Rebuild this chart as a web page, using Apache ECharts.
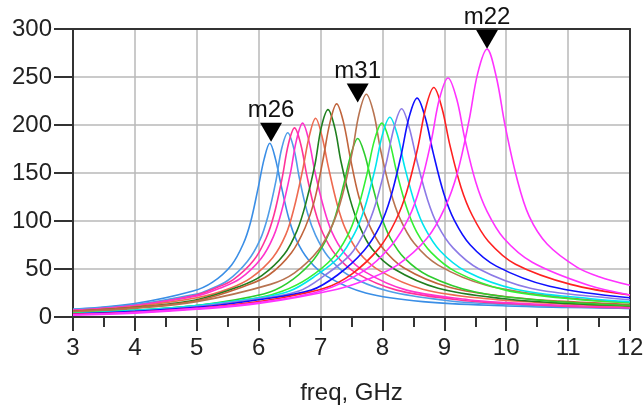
<!DOCTYPE html>
<html>
<head>
<meta charset="utf-8">
<script src="https://cdn.jsdelivr.net/npm/echarts@6/dist/echarts.min.js"></script>
<style>html,body{margin:0;padding:0;background:#fff;}#c{width:644px;height:407px;}</style>
</head>
<body>
<div id="c"></div>
<script>
// ---- data ----
const xTicks = [3,4,5,6,7,8,9,10,11,12];
const yTicks = [0,50,100,150,200,250,300];

const freq1 = [3, 4, 4.94, 5.25, 5.56, 5.75, 5.87, 5.99, 6.09, 6.18, 6.27, 6.37, 6.49, 6.61, 6.80, 7.11, 7.73, 8.65, 10, 11, 12];
const mag1  = [8, 14, 27, 36, 54, 76, 99, 134, 165, 181, 165, 135, 102, 80, 60, 42, 25, 16, 11.5, 10, 9];
const freq2 = [3, 4, 5, 5.18, 5.50, 5.82, 6.02, 6.15, 6.28, 6.37, 6.47, 6.57, 6.66, 6.79, 6.92, 7.12, 7.44, 8.09, 9.06, 10, 11, 12];
const mag2  = [8, 13, 24, 28, 38, 58, 80, 105, 142, 175, 192, 175, 144, 108, 85, 63, 44, 27, 17, 13, 10.5, 9];
const freq3 = [3, 4, 5, 5.26, 5.59, 5.92, 6.12, 6.25, 6.38, 6.48, 6.58, 6.68, 6.78, 6.91, 7.04, 7.24, 7.57, 8.23, 9.21, 10, 11, 12];
const mag3  = [7, 12, 23, 29, 39, 59, 82, 107, 145, 180, 197, 180, 147, 111, 87, 65, 46, 28, 18, 14, 11, 9.5];
const freq4 = [3, 4, 5, 5.37, 5.70, 6.04, 6.24, 6.37, 6.51, 6.61, 6.71, 6.81, 6.91, 7.05, 7.18, 7.38, 7.72, 8.39, 9.39, 10, 11, 12];
const mag4  = [7, 12, 22, 30, 40, 61, 84, 110, 149, 184, 202, 184, 151, 114, 89, 67, 47, 28, 18, 15, 12, 10];
const freq5 = [3, 4, 5, 5.54, 5.88, 6.23, 6.44, 6.57, 6.71, 6.82, 6.92, 7.02, 7.13, 7.27, 7.40, 7.61, 7.96, 8.65, 9.69, 11, 12];
const mag5  = [6, 11, 20, 30, 41, 62, 86, 113, 153, 189, 207, 189, 155, 117, 92, 68, 48, 29, 19, 13.5, 11];
const freq6 = [3, 4, 5, 5.70, 6.05, 6.41, 6.62, 6.76, 6.91, 7.01, 7.12, 7.23, 7.33, 7.48, 7.62, 7.83, 8.19, 8.90, 9.97, 11, 12];
const mag6  = [6, 10, 18, 32, 43, 65, 90, 118, 159, 197, 216, 197, 162, 122, 96, 71, 50, 30, 19, 14, 11.5];
const freq7 = [3, 4, 5, 5.81, 6.17, 6.53, 6.75, 6.90, 7.04, 7.15, 7.26, 7.37, 7.48, 7.62, 7.77, 7.99, 8.35, 9.08, 10.16, 11, 12];
const mag7  = [6, 10, 17, 33, 44, 67, 93, 121, 164, 202, 222, 203, 166, 125, 98, 73, 51, 31, 20, 16, 13];
const freq8 = [3, 4, 5, 6.08, 6.46, 6.84, 7.07, 7.22, 7.37, 7.49, 7.60, 7.71, 7.83, 7.98, 8.13, 8.36, 8.74, 9.50, 10.64, 12];
const mag8  = [4, 7, 12, 24, 35, 56, 78, 101, 137, 169, 186, 170, 139, 105, 82, 61, 43, 26, 17, 12];
const freq9 = [3, 4, 5, 6.19, 6.58, 6.97, 7.20, 7.35, 7.51, 7.62, 7.74, 7.86, 7.97, 8.13, 8.28, 8.51, 8.90, 9.68, 10.84, 12];
const mag9  = [5, 9, 16, 34, 46, 70, 97, 126, 171, 211, 232, 212, 174, 131, 103, 77, 54, 33, 21, 15];
const freq10 = [3, 4, 5, 6, 6.39, 6.79, 7.19, 7.43, 7.59, 7.75, 7.87, 7.99, 8.11, 8.23, 8.39, 8.55, 8.79, 9.19, 9.99, 11.19, 12];
const mag10  = [4, 7, 12, 20, 27, 40, 61, 84, 110, 149, 184, 202, 184, 151, 114, 89, 67, 47, 28, 18, 15];
const freq11 = [3, 4, 5, 6, 6.50, 6.90, 7.31, 7.55, 7.71, 7.88, 8.00, 8.12, 8.24, 8.36, 8.53, 8.69, 8.93, 9.34, 10.15, 11.37, 12];
const mag11  = [3.5, 7, 12, 20, 27, 42, 63, 87, 113, 154, 190, 208, 190, 156, 117, 92, 69, 48, 29, 19, 16];
const freq12 = [3, 4, 5, 6, 6.65, 7.06, 7.48, 7.73, 7.89, 8.06, 8.19, 8.31, 8.43, 8.56, 8.73, 8.89, 9.14, 9.56, 10.39, 11.63, 12];
const mag12  = [3, 6, 11, 19, 27, 43, 65, 91, 118, 160, 198, 217, 198, 162, 122, 96, 72, 50, 30, 20, 18];
const freq13 = [3, 4, 5, 6, 6.85, 7.28, 7.70, 7.96, 8.13, 8.30, 8.43, 8.56, 8.69, 8.82, 8.99, 9.16, 9.42, 9.84, 10.70, 12];
const mag13  = [3, 6, 10, 18, 28, 44, 69, 95, 124, 168, 208, 228, 208, 171, 129, 101, 75, 53, 32, 20];
const freq14 = [3, 4, 5, 6, 7.06, 7.51, 7.95, 8.21, 8.39, 8.57, 8.70, 8.83, 8.96, 9.09, 9.27, 9.45, 9.71, 10.15, 11.04, 12];
const mag14  = [3, 5, 9, 16, 30, 45, 72, 100, 130, 176, 218, 239, 218, 179, 135, 106, 79, 55, 34, 23];
const freq15 = [3, 4, 5, 6, 7, 7.70, 8.15, 8.43, 8.61, 8.79, 8.92, 9.06, 9.20, 9.33, 9.51, 9.69, 9.96, 10.42, 11.33, 12];
const mag15  = [2.5, 5, 9, 15, 27, 48, 75, 104, 136, 184, 227, 249, 227, 186, 140, 110, 82, 57, 33, 23];
const freq16 = [3, 4, 5, 6, 7.27, 7.75, 8.24, 8.72, 9.01, 9.21, 9.40, 9.54, 9.69, 9.84, 9.98, 10.17, 10.37, 10.66, 11.14, 11.5, 12];
const mag16  = [2, 4, 8, 14, 29, 39, 54, 82, 114, 150, 205, 254, 279, 250, 200, 145, 105, 76, 52, 42, 33];

const markerNames = ['m26', 'm31', 'm22'];
const markerFreq  = [6.2, 7.6, 9.69];
const markerMag   = [182, 223, 279];

// ---- styles ----
const colors = ['#3a8ee6','#4f9de8','#ff3399','#ff33cc','#ee6a50','#1f7f1f','#c0643c','#2ecc2e',
                '#b87350','#33f033','#00e5ee','#8c7ae6','#1010ff','#ff2020','#ff33ff','#ff33ff'];
const curves = [[freq1,mag1],[freq2,mag2],[freq3,mag3],[freq4,mag4],[freq5,mag5],[freq6,mag6],
                [freq7,mag7],[freq8,mag8],[freq9,mag9],[freq10,mag10],[freq11,mag11],[freq12,mag12],
                [freq13,mag13],[freq14,mag14],[freq15,mag15],[freq16,mag16]];
const FONT = 'Liberation Sans, Arial, sans-serif';
const dark = '#333';

const series = curves.map((c, i) => ({
  type: 'line',
  data: c[0].map((f, j) => [f, c[1][j]]),
  showSymbol: false,
  smooth: 0.35,
  lineStyle: { width: 1.6, color: colors[i] },
  itemStyle: { color: colors[i] },
  silent: true
}));
series.push({
  type: 'scatter',
  data: markerNames.map((n, i) => [markerFreq[i], markerMag[i], n]),
  symbol: 'triangle',
  symbolRotate: 180,
  symbolSize: [22, 19],
  symbolOffset: [0, -10],
  itemStyle: { color: '#000', opacity: 1 },
  label: { show: true, position: 'top', distance: 0, formatter: p => p.data[2],
           fontSize: 24, color: '#111', fontFamily: FONT },
  z: 10
});

const chart = echarts.init(document.getElementById('c'), null, { renderer: 'canvas' });
chart.setOption({
  animation: false,
  backgroundColor: '#fff',
  grid: { left: 73, right: 14, top: 29, bottom: 90, containLabel: false, outerBoundsMode: 'none' },
  xAxis: [{
    type: 'value', min: xTicks[0], max: xTicks[xTicks.length - 1], interval: 1,
    position: 'bottom',
    axisLine: { show: true, onZero: false, lineStyle: { color: dark, width: 2 } },
    axisTick: { show: true, length: 14, lineStyle: { color: dark, width: 2 } },
    minorTick: { show: true, splitNumber: 2, length: 10, lineStyle: { color: dark, width: 2 } },
    splitLine: { show: true, lineStyle: { color: '#b8b8b8', width: 1.5 } },
    axisLabel: { margin: 19, fontSize: 24, color: '#222', fontFamily: FONT },
    name: 'freq, GHz', nameLocation: 'middle', nameGap: 64,
    nameTextStyle: { fontSize: 24, color: '#222', fontFamily: FONT }
  }, {
    type: 'value', min: 3, max: 12, position: 'top',
    axisLine: { show: true, onZero: false, lineStyle: { color: dark, width: 2 } },
    axisTick: { show: false }, axisLabel: { show: false }, splitLine: { show: false }
  }],
  yAxis: [{
    type: 'value', min: yTicks[0], max: yTicks[yTicks.length - 1], interval: 50,
    position: 'left',
    axisLine: { show: true, onZero: false, lineStyle: { color: dark, width: 2 } },
    axisTick: { show: true, length: 19, lineStyle: { color: dark, width: 2 } },
    splitLine: { show: true, lineStyle: { color: '#b8b8b8', width: 1.5 } },
    axisLabel: { margin: 21, fontSize: 24, color: '#222', fontFamily: FONT }
  }, {
    type: 'value', min: 0, max: 300, position: 'right',
    axisLine: { show: true, onZero: false, lineStyle: { color: dark, width: 2 } },
    axisTick: { show: false }, axisLabel: { show: false }, splitLine: { show: false }
  }],
  series: series
});
</script>
</body>
</html>
